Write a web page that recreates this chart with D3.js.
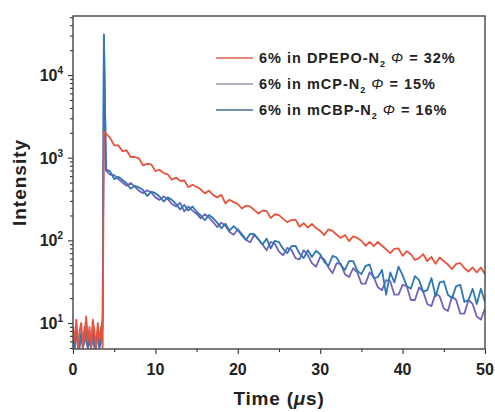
<!DOCTYPE html>
<html>
<head>
<meta charset="utf-8">
<script src="https://cdn.jsdelivr.net/npm/d3@7/dist/d3.min.js"></script>
<style>
  body { margin: 0; background: #fff; }
  text { font-family: "Liberation Sans", Arial, sans-serif; font-weight: bold; fill: #222; }
</style>
</head>
<body>
<div id="vis_container"></div>
<script>
// ---- data ----
var seriesNames = ["6% in DPEPO-N", "6% in mCP-N", "6% in mCBP-N"];
var quantumYield = ["32%", "15%", "16%"];
var seriesColors = ["#e8533b", "#7462bb", "#2f78b4"];
var legendColors = ["#e0604a", "#9a98a8", "#4a6c9c"];

var xTicks = [0, 10, 20, 30, 40, 50];
var yTicks = [10, 100, 1000, 10000];
var yTickExp = ["1", "2", "3", "4"];

// background before the excitation pulse (t = 0 ... 3.6 us)
var preTime = [0, 0.2, 0.4, 0.6, 0.8, 1.0, 1.2, 1.4, 1.6, 1.8, 2.0, 2.2, 2.4, 2.6, 2.8, 3.0, 3.2, 3.4, 3.6];
var preDPEPO = [9, 6, 11, 5, 8, 10, 5, 7, 12, 6, 9, 5, 11, 8, 5, 10, 6, 9, 5];
var preMCP = [6, 5, 8, 5, 6, 7, 5, 9, 6, 5, 6, 5, 7, 5, 6, 7, 5, 6, 9];
var preMCBP = [7, 5, 9, 6, 5, 8, 5, 6, 10, 5, 7, 5, 9, 6, 5, 8, 5, 7, 12];

// pulse
var peakTime = 3.75;
var peakValue = [2100, 30000, 31000];

// decay, sampled every 0.5 us from 4 to 50 us
var decayTime = d3.range(4, 50.25, 0.5);
var decayDPEPO = [1950,1740,1410,1410,1200,1230,1020,1020,980,810,
  840,830,690,715,650,630,540,575,525,530,
  440,470,445,415,370,400,355,330,355,280,
  310,290,275,243,263,257,232,211,229,226,
  186,207,202,182,166,176,178,146,162,143,
  158,141,130,116,136,130,117,107,116,98,
  112,107,99,86,96,85,96,86,78,70,
  79,80,65,74,68,58,61,68,56,63,
  52,62,56,51,45,52,53,46,42,47,
  41,47,39];
var decayMCP = [700,624,617,550,501,457,495,447,398,372,
  403,380,331,309,339,316,275,257,285,224,
  257,229,209,184,208,189,167,145,164,150,
  126,117,136,119,101,95,117,103,89,76,
  96,91,73,66,81,77,61,59,76,66,
  53,48,63,59,47,40,53,52,39,36,
  46,41,30,30,41,36,27,25,33,32,
  22,22,29,28,19,19,27,24,17,16,
  23,21,15,14,21,19,13,13,19,17,
  12,11,15];
var decayMCBP = [725,684,550,589,537,490,422,457,437,407,
  343,389,372,339,295,331,309,275,237,269,
  229,257,222,200,175,203,186,164,140,159,
  131,149,133,115,101,120,119,103,89,105,
  80,99,95,79,70,85,86,69,61,76,
  63,75,68,55,49,65,62,50,44,56,
  56,43,39,49,51,35,36,44,22,41,
  31,48,38,28,26,37,33,24,25,35,
  21,31,32,22,20,28,29,18,19,26,
  17,26,18];

var preData = [preDPEPO, preMCP, preMCBP];
var decayData = [decayDPEPO, decayMCP, decayMCBP];

// ---- chart ----
var chart = {};
chart.width = 495;
chart.height = 412;
chart.margin = {"top": 16, "left": 73, "right": 10, "bottom": 63};
chart.w = chart.width - chart.margin.left - chart.margin.right;
chart.h = chart.height - chart.margin.top - chart.margin.bottom;

chart.x = d3.scaleLinear().domain([0, 50]).range([0, chart.w]);
chart.y = d3.scaleLog().domain([4.85, 51800]).range([chart.h, 0]);

chart.svg = d3.select("#vis_container").append("svg")
  .attr("width", chart.width)
  .attr("height", chart.height)
    .append("g")
    .attr("transform", "translate(" + chart.margin.left + "," + chart.margin.top + ")");

chart.svg.append("clipPath").attr("id", "plotclip")
  .append("rect").attr("width", chart.w).attr("height", chart.h);

// build each trace: background, pulse, decay
var traces = [0, 1, 2].map(function(k) {
  var pts = preTime.map(function(t, i) { return [t, preData[k][i]]; });
  pts.push([peakTime, peakValue[k]]);
  decayTime.forEach(function(t, i) { pts.push([t, decayData[k][i]]); });
  return pts;
});

var line = d3.line()
  .x(function(d) { return chart.x(d[0]); })
  .y(function(d) { return chart.y(Math.max(d[1], 3)); });

// draw order so the red background sits on top at early times
[1, 2, 0].forEach(function(k) {
  chart.svg.append("path")
    .datum(traces[k])
    .attr("clip-path", "url(#plotclip)")
    .attr("fill", "none")
    .attr("stroke", seriesColors[k])
    .attr("stroke-width", 1.8)
    .attr("stroke-linejoin", "round")
    .attr("d", line);
});

// axes
var minorY = [];
[1, 10, 100, 1000, 10000].forEach(function(p) {
  for (var m = 2; m <= 9; m++) minorY.push(p * m);
});
minorY = minorY.filter(function(v) { return v >= 4.85 && v <= 51800; });

chart.svg.append("g")
  .attr("class", "axis")
  .call(d3.axisLeft(chart.y).tickValues(minorY).tickSize(3).tickFormat(""));
chart.svg.append("g")
  .attr("class", "axis")
  .call(d3.axisLeft(chart.y).tickValues(yTicks).tickSize(5).tickFormat(""));

chart.svg.append("g")
  .attr("class", "axis")
  .attr("transform", "translate(0," + chart.h + ")")
  .call(d3.axisBottom(chart.x).tickValues([5, 15, 25, 35, 45]).tickSize(3).tickFormat(""));
chart.svg.append("g")
  .attr("class", "axis")
  .attr("transform", "translate(0," + chart.h + ")")
  .call(d3.axisBottom(chart.x).tickValues(xTicks).tickSize(5).tickFormat(""));

chart.svg.selectAll(".axis path").attr("stroke", "none");
chart.svg.selectAll(".axis line").attr("stroke", "#333").attr("stroke-width", 1.1);

// frame
chart.svg.append("rect")
  .attr("width", chart.w)
  .attr("height", chart.h)
  .attr("fill", "none")
  .attr("stroke", "#444")
  .attr("stroke-width", 1.4);

// tick labels
chart.svg.selectAll(".xlab")
  .data(xTicks)
  .enter()
  .append("text")
    .attr("x", function(d) { return chart.x(d); })
    .attr("y", chart.h + 26)
    .attr("text-anchor", "middle")
    .style("font-size", "16px")
    .text(function(d) { return d; });

var ylab = chart.svg.selectAll(".ylab")
  .data(yTicks)
  .enter()
  .append("text")
    .attr("x", -10)
    .attr("y", function(d) { return chart.y(d) + 6; })
    .attr("text-anchor", "end")
    .style("font-size", "16px");
ylab.append("tspan").text("10");
ylab.append("tspan")
  .attr("dy", -7)
  .style("font-size", "10px")
  .text(function(d, i) { return yTickExp[i]; });

// axis titles
var xt = chart.svg.append("text")
  .attr("x", chart.w / 2)
  .attr("y", chart.h + 56)
  .attr("text-anchor", "middle")
  .style("font-size", "19px")
  .style("letter-spacing", "0.8px");
xt.append("tspan").text("Time (");
xt.append("tspan").style("font-style", "italic").text("\u03bc");
xt.append("tspan").text("s)");

chart.svg.append("text")
  .attr("transform", "translate(-47," + chart.h / 2 + ") rotate(-90)")
  .attr("text-anchor", "middle")
  .style("font-size", "19px")
  .style("letter-spacing", "1px")
  .text("Intensity");

// legend
var legend = chart.svg.selectAll(".legend")
  .data(seriesNames)
  .enter()
  .append("g")
    .attr("transform", function(d, i) { return "translate(143," + (42 + i * 26) + ")"; });

legend.append("line")
  .attr("x1", 0).attr("x2", 37)
  .attr("y1", 0).attr("y2", 0)
  .attr("stroke", function(d, i) { return legendColors[i]; })
  .attr("stroke-width", 1.6);

var lt = legend.append("text")
  .attr("x", 43)
  .attr("y", 5)
  .style("font-size", "14.5px")
  .style("letter-spacing", "1px");
lt.append("tspan").text(function(d) { return d; });
lt.append("tspan").attr("dy", 4).style("font-size", "9px").text("2");
lt.append("tspan").attr("dy", -4).text(" ");
lt.append("tspan").style("font-style", "italic").style("font-weight", "normal").text("\u03a6");
lt.append("tspan").text(function(d, i) { return " = " + quantumYield[i]; });
</script>
</body>
</html>
